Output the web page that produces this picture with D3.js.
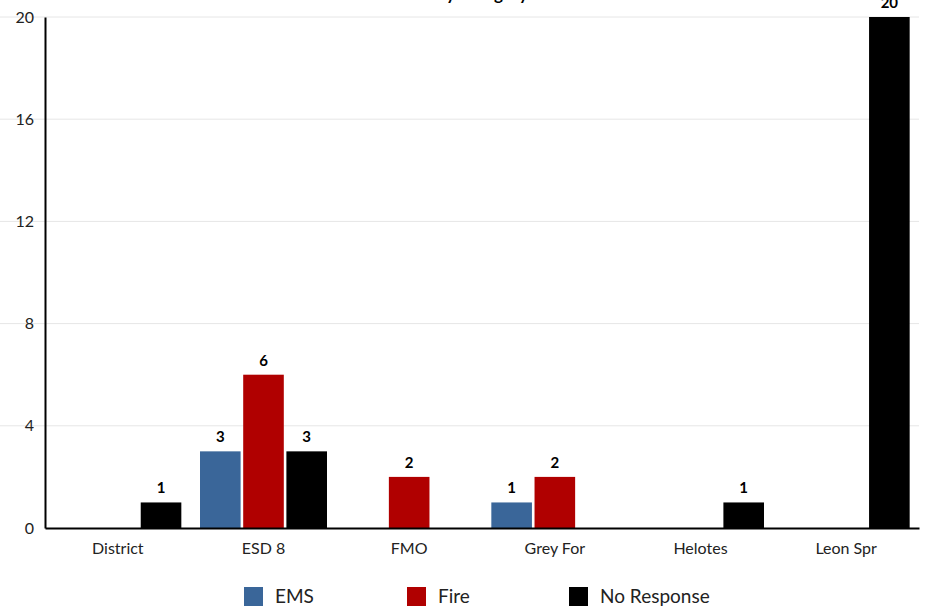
<!DOCTYPE html>
<html>
<head>
<meta charset="utf-8">
<script src="https://cdn.jsdelivr.net/npm/d3@7"></script>
<style>
  body { margin: 0; background: #fff; }
  svg { display: block; font-family: Lato, "Open Sans", sans-serif; }
</style>
</head>
<body>
<svg class="container"></svg>
<script>
const categories = ["District", "ESD 8", "FMO", "Grey For", "Helotes", "Leon Spr"];
const seriesNames = ["EMS", "Fire", "No Response"];
const emsValues = [0, 3, 0, 1, 0, 0];
const fireValues = [0, 6, 2, 2, 0, 0];
const noResponseValues = [1, 3, 0, 0, 1, 20];
const yTicks = [0, 4, 8, 12, 16, 20];
const colors = ["#3a6699", "#b00000", "#000000"];
const titleText = "Mutual Aid by Category";

const data = categories.map((c, i) => ({
  cat: c, EMS: emsValues[i], Fire: fireValues[i], "No Response": noResponseValues[i]
}));

const W = 926, H = 611;
const margin = { top: 17, right: 7, bottom: 83, left: 45 };
const width = W - margin.left - margin.right,
  height = H - margin.top - margin.bottom;

const svg = d3.select(".container").attr("width", W).attr("height", H);
const g = svg.append("g").attr("transform", `translate(${margin.left},${margin.top})`);

const x0 = d3.scaleBand().domain(categories).range([0, width]).padding(0);
const x1 = d3.scaleBand().domain(seriesNames).range([0, 127]).paddingInner(0.06);
const y = d3.scaleLinear().domain([0, 20]).range([height, 0]);
const color = d3.scaleOrdinal().domain(seriesNames).range(colors);

// grid
g.selectAll(".grid").data(yTicks.filter(t => t > 0)).join("line")
  .attr("class", "grid")
  .attr("x1", -45).attr("x2", width)
  .attr("y1", d => y(d)).attr("y2", d => y(d))
  .attr("stroke", "#e6e6e6").attr("stroke-width", 1);

// title (cut off at top, as in the original)
svg.append("text").attr("x", 528).attr("y", 0)
  .attr("text-anchor", "end").attr("font-weight", "bold").attr("font-size", 17)
  .attr("fill", "#000").text(titleText);

// bars
const groups = g.selectAll(".grp").data(data).join("g")
  .attr("class", "grp")
  .attr("transform", d => `translate(${x0(d.cat) + x0.bandwidth() / 2 - 63.5},0)`);

const cells = groups.selectAll(".cell")
  .data(d => seriesNames.map(k => ({ key: k, value: d[k] })).filter(e => e.value > 0))
  .join("g").attr("class", "cell");

cells.append("rect")
  .attr("x", d => x1(d.key)).attr("width", x1.bandwidth())
  .attr("y", d => y(d.value)).attr("height", d => y(0) - y(d.value))
  .attr("fill", d => color(d.key));

cells.append("text")
  .attr("x", d => x1(d.key) + x1.bandwidth() / 2)
  .attr("y", d => y(d.value) - 9)
  .attr("text-anchor", "middle").attr("font-weight", "bold").attr("font-size", 15)
  .attr("fill", "#000").text(d => d.value);

// axes
const yAxis = g.append("g").call(d3.axisLeft(y).tickValues(yTicks).tickSize(0).tickPadding(11));
yAxis.select(".domain").attr("stroke", "#000").attr("stroke-width", 2);
yAxis.selectAll("text").attr("font-size", 16).attr("fill", "#222").attr("font-family", "Lato, sans-serif");

const xAxis = g.append("g").attr("transform", `translate(0,${height})`)
  .call(d3.axisBottom(x0).tickSize(0).tickPadding(15));
xAxis.select(".domain").attr("stroke", "#000").attr("stroke-width", 2);
xAxis.selectAll("text").attr("font-size", 16).attr("fill", "#222").attr("font-family", "Lato, sans-serif");

// legend
const legendX = [244, 407, 569];
const legend = svg.selectAll(".legend").data(seriesNames).join("g")
  .attr("class", "legend")
  .attr("transform", (d, i) => `translate(${legendX[i]},587)`);
legend.append("rect").attr("width", 19).attr("height", 19).attr("fill", d => color(d));
legend.append("text").attr("x", 31).attr("y", 16)
  .attr("font-size", 19).attr("fill", "#222").text(d => d);
</script>
</body>
</html>
